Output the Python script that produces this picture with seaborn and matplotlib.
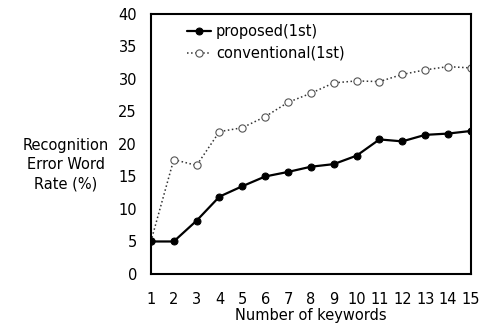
import numpy as np
import pandas as pd
import seaborn as sns
import matplotlib
matplotlib.use('Agg')
import matplotlib.pyplot as plt

keywords = list(range(1, 16))
proposed = [5.0, 5.0, 8.2, 11.9, 13.5, 15.0, 15.7, 16.5, 16.9, 18.2, 20.7, 20.4, 21.4, 21.6, 22.0]
conventional = [5.0, 17.6, 16.7, 21.9, 22.5, 24.2, 26.4, 27.8, 29.4, 29.7, 29.6, 30.7, 31.4, 31.9, 31.7]

sns.set_style('white')
plt.rcParams['font.family'] = ['DejaVu Sans']
plt.rcParams['font.size'] = 10.5
plt.rcParams['text.color'] = 'black'
plt.rcParams['axes.labelcolor'] = 'black'
plt.rcParams['xtick.color'] = 'black'
plt.rcParams['ytick.color'] = 'black'

fig = plt.figure(figsize=(4.79, 3.25), dpi=100)
ax = fig.add_axes([0.315, 0.157, 0.668, 0.8])

df = pd.DataFrame({'k': keywords, 'proposed': proposed, 'conventional': conventional})

sns.lineplot(data=df, x='k', y='conventional', ax=ax, color='#333333', linestyle=':',
             linewidth=1.1, marker='o', markersize=5.2, markerfacecolor='white',
             markeredgecolor='#555555', markeredgewidth=0.8, label='conventional(1st)')
sns.lineplot(data=df, x='k', y='proposed', ax=ax, color='black', linewidth=1.6,
             marker='o', markersize=5, markeredgecolor='black', label='proposed(1st)')

ax.set_xlim(1, 15)
ax.set_ylim(0, 40)
ax.set_xticks(keywords)
ax.set_yticks(range(0, 41, 5))
ax.tick_params(axis='x', direction='in', length=4, pad=13)
ax.tick_params(axis='y', direction='in', length=4, pad=10)
for s in ax.spines.values():
    s.set_color('black')
    s.set_linewidth(1.5)

ax.set_xlabel('Number of keywords', labelpad=1)
ax.set_ylabel('Recognition\nError Word\nRate (%)', rotation=0, ha='center', va='center',
              linespacing=1.35)
ax.yaxis.set_label_coords(-0.265, 0.42)

h, l = ax.get_legend_handles_labels()
ax.legend(h[::-1], l[::-1], loc='upper left', frameon=False, handlelength=1.7,
          handletextpad=0.3, borderaxespad=0.3, labelspacing=0.45, bbox_to_anchor=(0.08, 1.0))

fig.savefig('out.png', dpi=100)
